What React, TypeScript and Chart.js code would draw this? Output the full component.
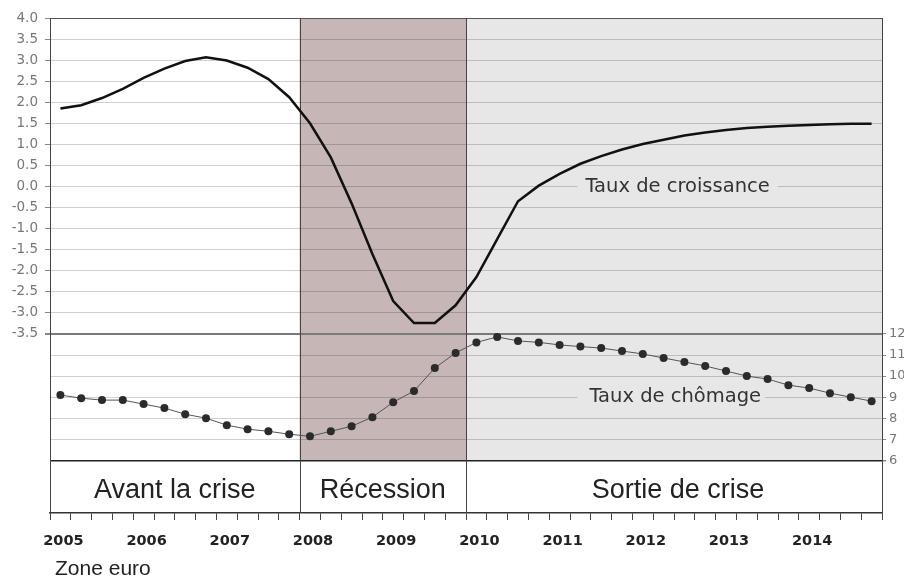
import React, { useEffect, useRef } from "react";
import { Chart, registerables } from "chart.js";

Chart.register(...registerables);

// ---- data ----
const YEARS = ["2005", "2006", "2007", "2008", "2009", "2010", "2011", "2012", "2013", "2014"];
const QUARTER_NAMES = ["T1", "T2", "T3", "T4"];
const QUARTERS = YEARS.flatMap((y) => QUARTER_NAMES.map((q) => `${y} ${q}`));

// Taux de croissance (%), axe de gauche
const GROWTH = [
  1.85, 1.93, 2.1, 2.32, 2.58, 2.8, 2.98, 3.07, 2.99, 2.82,
  2.55, 2.12, 1.5, 0.69, -0.4, -1.6, -2.72, -3.24, -3.24, -2.82,
  -2.15, -1.25, -0.35, 0.02, 0.3, 0.54, 0.72, 0.88, 1.01, 1.11,
  1.21, 1.28, 1.34, 1.39, 1.42, 1.44, 1.46, 1.48, 1.49, 1.49,
];

// Taux de chômage (%), axe de droite
const UNEMPLOYMENT = [
  9.1, 8.95, 8.86, 8.86, 8.67, 8.48, 8.19, 8.0, 7.67, 7.48,
  7.38, 7.24, 7.14, 7.38, 7.62, 8.05, 8.76, 9.29, 10.38, 11.1,
  11.6, 11.86, 11.67, 11.6, 11.48, 11.4, 11.33, 11.19, 11.05, 10.86,
  10.67, 10.48, 10.24, 10.0, 9.86, 9.57, 9.43, 9.19, 9.0, 8.81,
];

const LEFT_TICKS = [4.0, 3.5, 3.0, 2.5, 2.0, 1.5, 1.0, 0.5, 0.0, -0.5, -1.0, -1.5, -2.0, -2.5, -3.0, -3.5];
const RIGHT_TICKS = [12, 11, 10, 9, 8, 7, 6];

const PHASE_LABELS = ["Avant la crise", "Récession", "Sortie de crise"];
const PHASE_STARTS = ["2005 T1", "2008 T1", "2010 T1"];
const PHASE_COLORS = ["#ffffff", "#c6b6b6", "#e7e7e7"];

const SERIES_LABELS = ["Taux de croissance", "Taux de chômage"];
const SERIES_LABEL_AT = ["2011 T2", "2011 T2"];
const SERIES_LABEL_VALUE = [0.0, 9];

// ---- axis ranges (left panel + right panel + label band) ----
const LEFT_MIN = -7.75;
const LEFT_MAX = 4.0;
const RIGHT_MIN = 3.5;
const RIGHT_MAX = 27;

const GRID = "rgba(0,0,0,0.18)";

function phaseBounds(chart: any) {
  const { chartArea, scales } = chart;
  const x = scales.x;
  const starts = PHASE_STARTS.map((s) => {
    const i = QUARTERS.indexOf(s);
    if (i === 0) return chartArea.left;
    return (x.getPixelForValue(i - 1) + x.getPixelForValue(i)) / 2;
  });
  return starts.map((s, i) => [s, i < starts.length - 1 ? starts[i + 1] : chartArea.right]);
}

const phasesPlugin = {
  id: "phases",
  beforeDraw(chart: any) {
    const { ctx, chartArea, scales } = chart;
    const bottomPanel = scales.y2.getPixelForValue(6);
    const bounds = phaseBounds(chart);
    ctx.save();
    bounds.forEach(([a, b]: number[], i: number) => {
      ctx.fillStyle = PHASE_COLORS[i];
      ctx.fillRect(a, chartArea.top, b - a, bottomPanel - chartArea.top);
    });
    ctx.restore();
  },
  beforeDatasetsDraw(chart: any) {
    const { ctx, chartArea, scales } = chart;
    const bounds = phaseBounds(chart);
    ctx.save();
    // boundaries
    ctx.strokeStyle = "#444";
    ctx.lineWidth = 1;
    bounds.forEach(([a]: number[], i: number) => {
      if (i === 0) return;
      const px = Math.round(a) + 0.5;
      ctx.beginPath();
      ctx.moveTo(px, chartArea.top);
      ctx.lineTo(px, chartArea.bottom);
      ctx.stroke();
    });
    // band labels
    ctx.fillStyle = "#222";
    ctx.font = '27px "Liberation Sans", Arial, sans-serif';
    ctx.textAlign = "center";
    ctx.textBaseline = "alphabetic";
    bounds.forEach(([a, b]: number[], i: number) => {
      ctx.fillText(PHASE_LABELS[i], (a + b) / 2 + (i === 2 ? 4 : 0), chartArea.bottom - 15);
    });
    // series labels
    ctx.font = '19.5px "DejaVu Sans", sans-serif';
    ctx.textAlign = "left";
    ctx.textBaseline = "middle";
    SERIES_LABELS.forEach((lab, i) => {
      const idx = QUARTERS.indexOf(SERIES_LABEL_AT[i]);
      const px = scales.x.getPixelForValue(idx) - 3;
      const py = i === 0 ? scales.y.getPixelForValue(SERIES_LABEL_VALUE[i]) : scales.y2.getPixelForValue(SERIES_LABEL_VALUE[i]);
      const w = ctx.measureText(lab).width;
      ctx.fillStyle = PHASE_COLORS[2];
      ctx.fillRect(px, py - 10, w + 16, 20);
      ctx.fillStyle = "#333";
      ctx.fillText(lab, px + 8 + (i === 1 ? 4 : 0), py);
    });
    ctx.restore();
  },
};

export default function App() {
  const ref = useRef<HTMLCanvasElement | null>(null);

  useEffect(() => {
    if (!ref.current) return;
    const chart = new Chart(ref.current, {
      type: "line",
      data: {
        labels: QUARTERS,
        datasets: [
          {
            label: SERIES_LABELS[0],
            data: GROWTH,
            yAxisID: "y",
            borderColor: "#111",
            borderWidth: 2.5,
            pointRadius: 0,
            tension: 0,
          },
          {
            label: SERIES_LABELS[1],
            data: UNEMPLOYMENT,
            yAxisID: "y2",
            borderColor: "#555",
            borderWidth: 1,
            pointRadius: 4,
            pointBackgroundColor: "#2b2b2b",
            pointBorderWidth: 0,
            tension: 0,
          },
        ],
      },
      options: {
        animation: false,
        responsive: false,
        devicePixelRatio: 1,
        layout: { padding: { top: 18, left: 0, right: 0, bottom: 0 } },
        plugins: { legend: { display: false }, tooltip: { enabled: false } },
        scales: {
          x: {
            type: "category",
            offset: true,
            grid: { drawOnChartArea: false, offset: true, tickLength: 7, tickColor: "#444" },
            border: { color: "#333", width: 1.5 },
            ticks: {
              autoSkip: false,
              maxRotation: 0,
              minRotation: 0,
              padding: 13,
              labelOffset: 3,
              color: "#222",
              font: { family: "DejaVu Sans", size: 14.5, weight: "bold" },
              callback: (_v: any, i: number) => (QUARTERS[i].endsWith("T1") ? QUARTERS[i].slice(0, 4) : ""),
            },
            afterFit: (s: any) => {
              s.height = 68;
            },
          },
          y: {
            type: "linear",
            position: "left",
            min: LEFT_MIN,
            max: LEFT_MAX,
            afterBuildTicks: (s: any) => {
              s.ticks = LEFT_TICKS.map((v) => ({ value: v }));
            },
            grid: {
              tickLength: 5,
              tickColor: "#888",
              color: (c: any) => (c.tick?.value === 4 ? "#555" : c.tick?.value === -3.5 ? "#7a7a7a" : GRID),
              lineWidth: (c: any) => (c.tick?.value === -3.5 ? 2 : 1),
            },
            border: { color: "#444", width: 1 },
            ticks: {
              padding: 7,
              color: "#777",
              font: { family: "DejaVu Sans", size: 13.5 },
              callback: (v: any) => Number(v).toFixed(1),
            },
            afterFit: (s: any) => {
              s.width = 50;
            },
          },
          y2: {
            type: "linear",
            position: "right",
            min: RIGHT_MIN,
            max: RIGHT_MAX,
            afterBuildTicks: (s: any) => {
              s.ticks = RIGHT_TICKS.map((v) => ({ value: v }));
            },
            grid: {
              drawOnChartArea: true,
              tickLength: 4,
              tickColor: "#888",
              color: (c: any) => (c.tick?.value === 6 ? "#222" : c.tick?.value === 12 ? "rgba(0,0,0,0)" : GRID),
              lineWidth: (c: any) => (c.tick?.value === 6 ? 1.5 : 1),
            },
            border: { color: "#444", width: 1 },
            ticks: {
              padding: 3,
              color: "#777",
              font: { family: "DejaVu Sans", size: 13 },
              callback: (v: any) => String(v),
            },
            afterFit: (s: any) => {
              s.width = 22;
            },
          },
        },
      },
      plugins: [phasesPlugin],
    } as any);
    return () => chart.destroy();
  }, []);

  return (
    <div style={{ position: "absolute", left: 0, top: 0, width: 904, height: 581, background: "#fff", overflow: "hidden" }}>
      <canvas ref={ref} width={904} height={581} style={{ display: "block", width: 904, height: 581 }} />
      <div
        style={{
          position: "absolute",
          left: 55,
          top: 556,
          font: '21px "Liberation Sans", Arial, sans-serif',
          color: "#222",
          whiteSpace: "nowrap",
        }}
      >
        Zone euro
      </div>
    </div>
  );
}
